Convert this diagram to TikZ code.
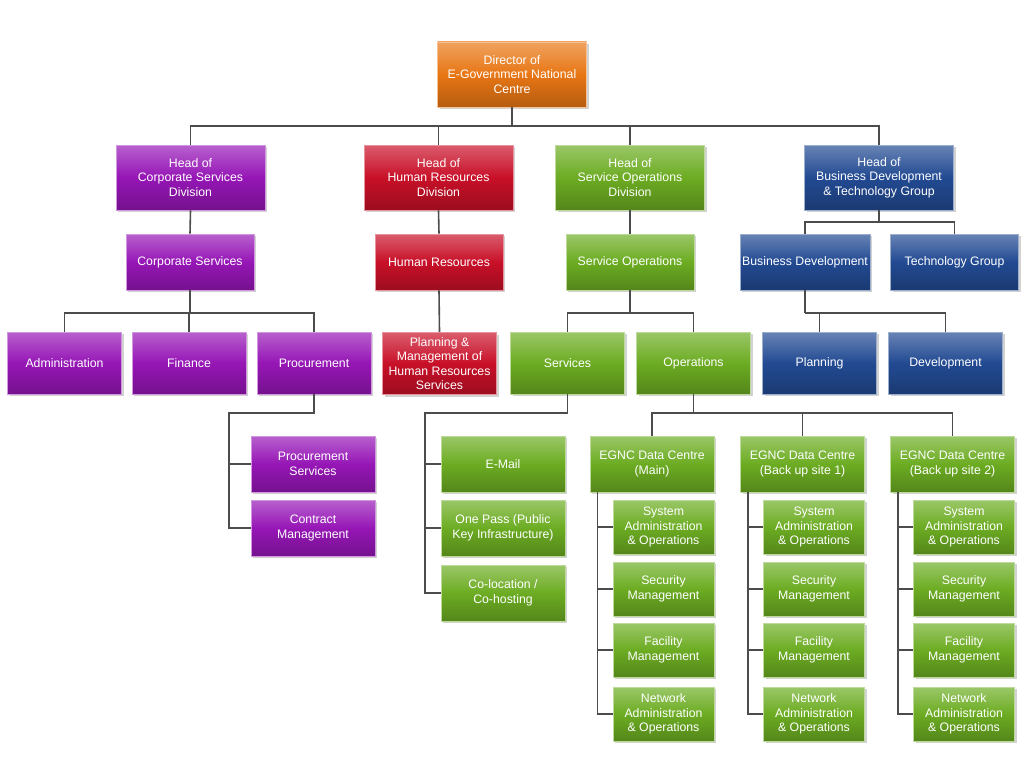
\documentclass[tikz,border=0pt]{standalone}
\usepackage{fontspec}
\setmainfont{Liberation Sans}
\usetikzlibrary{shadows}
\tikzset{
  unit/.style={draw=#1!45!white,line width=0.8pt,top color=#1!68!white,bottom color=#1!78!black,
    middle color=#1,text=white,align=center,font=\fontsize{12.3}{14.5}\selectfont,inner sep=2pt,
    drop shadow={shadow xshift=2pt,shadow yshift=-2pt,opacity=0.35}},
  headbox/.style={unit=#1,minimum width=149pt,minimum height=65pt},
  secbox/.style={unit=#1,minimum width=128pt,minimum height=56pt},
  teambox/.style={unit=#1,minimum width=114pt,minimum height=62pt},
  subbox/.style={unit=#1,minimum width=124pt,minimum height=56pt},
  tinybox/.style={unit=#1,minimum width=101pt,minimum height=54pt},
  link/.style={draw=black!70,line width=1.6pt}
}
\begin{document}
\begin{tikzpicture}[x=1pt,y=-1pt]
  \definecolor{dirc}{RGB}{232,118,20}
  \definecolor{corp}{RGB}{150,22,182}
  \definecolor{hrc}{RGB}{200,16,40}
  \definecolor{opsc}{RGB}{108,172,34}
  \definecolor{bizc}{RGB}{34,74,146}
  \useasboundingbox[fill=white] (0,0) rectangle (1024,768);
  % top levels
  \node[headbox=dirc] (dir) at (512,74.5) {Director of\\E-Government National\\Centre};
  \node[headbox=corp] (hcs) at (190.5,177.5) {Head of\\Corporate Services\\Division};
  \node[headbox=hrc] (hhr) at (438.5,177.5) {Head of\\Human Resources\\Division};
  \node[headbox=opsc] (hso) at (630,177.5) {Head of\\Service Operations\\Division};
  \node[headbox=bizc] (hbd) at (879,177.5) {Head of\\Business Development\\\& Technology Group};
  \node[secbox=corp] (cs) at (190,262) {Corporate Services};
  \node[secbox=hrc] (hr) at (439,262) {Human Resources};
  \node[secbox=opsc] (so) at (630,262) {Service Operations};
  \node[secbox=bizc] (bdev) at (805,262) {Business Development};
  \node[secbox=bizc] (tech) at (954.5,262) {Technology Group};
  % teams
  \node[teambox=corp] (adm) at (64.5,363) {Administration};
  \node[teambox=corp] (fin) at (189,363) {Finance};
  \node[teambox=corp] (proc) at (314,363) {Procurement};
  \node[teambox=hrc] (pmhr) at (439.5,363.5) {Planning \&\\Management of\\Human Resources\\Services};
  \node[teambox=opsc] (serv) at (567.5,363) {Services};
  \node[teambox=opsc] (ops) at (693.5,363) {Operations};
  \node[teambox=bizc] (plan) at (819.5,363) {Planning};
  \node[teambox=bizc] (devl) at (945.5,363) {Development};
  \node[subbox=corp] (psrv) at (313,464) {Procurement\\Services};
  \node[subbox=corp] (cmgt) at (313,528) {Contract\\Management};
  \node[subbox=opsc] (mail) at (503,464) {E-Mail};
  \node[subbox=opsc] (opass) at (503,528) {One Pass (Public\\Key Infrastructure)};
  \node[subbox=opsc] (coloc) at (503,593) {Co-location /\\Co-hosting};
  % data centres
  \foreach \d/\cx/\site in {dcm/652/Main,dcb1/802.5/Back up site 1,dcb2/952.5/Back up site 2}{%
    \node[subbox=opsc] (\d) at (\cx,464) {EGNC Data Centre\\(\site)};
    \node[tinybox=opsc] (\d-sa) at (\cx+11.5,527) {System\\Administration\\\& Operations};
    \node[tinybox=opsc] (\d-sm) at (\cx+11.5,589) {Security\\Management};
    \node[tinybox=opsc] (\d-fm) at (\cx+11.5,650) {Facility\\Management};
    \node[tinybox=opsc] (\d-na) at (\cx+11.5,714) {Network\\Administration\\\& Operations};
    \coordinate (\d-v) at ([xshift=8pt]\d.south west);
    \draw[link] (\d-v) |- (\d-na.west);
    \foreach \c in {sa,sm,fm}
      \draw[link] (\d-v |- \d-\c.west) -- (\d-\c.west);
  }
  % connectors
  \coordinate (topbus) at (512,126);
  \draw[link] (dir.south) -- (topbus);
  \foreach \n in {hcs,hhr,hso,hbd}
    \draw[link] (topbus) -| (\n.north);
  \draw[link] (hcs.south) -- (cs.north);
  \draw[link] (hhr.south) -- (hr.north);
  \draw[link] (hso.south) -- (so.north);
  \coordinate (bizbus) at (879,222);
  \draw[link] (hbd.south) -- (bizbus);
  \draw[link] (bizbus) -| (bdev.north);
  \draw[link] (bizbus) -| (tech.north);
  \coordinate (corpbus) at (190,313);
  \draw[link] (cs.south) -- (corpbus);
  \foreach \n in {adm,fin,proc}
    \draw[link] (corpbus) -| (\n.north);
  \draw[link] (hr.south) -- (pmhr.north);
  \coordinate (opsbus) at (630,313);
  \draw[link] (so.south) -- (opsbus);
  \draw[link] (opsbus) -| (serv.north);
  \draw[link] (opsbus) -| (ops.north);
  \coordinate (planbus) at (805,313);
  \draw[link] (bdev.south) -- (planbus);
  \draw[link] (planbus) -| (plan.north);
  \draw[link] (planbus) -| (devl.north);
  \coordinate (procj) at (229,413);
  \draw[link] (proc.south) |- (procj) |- (cmgt.west);
  \draw[link] (procj |- psrv.west) -- (psrv.west);
  \coordinate (servj) at (425,413);
  \draw[link] (serv.south) |- (servj) |- (coloc.west);
  \foreach \n in {mail,opass}
    \draw[link] (servj |- \n.west) -- (\n.west);
  \coordinate (dcbus) at (693.5,413);
  \draw[link] (ops.south) -- (dcbus);
  \foreach \n in {dcm,dcb1,dcb2}
    \draw[link] (dcbus) -| (\n.north);
\end{tikzpicture}
\end{document}
